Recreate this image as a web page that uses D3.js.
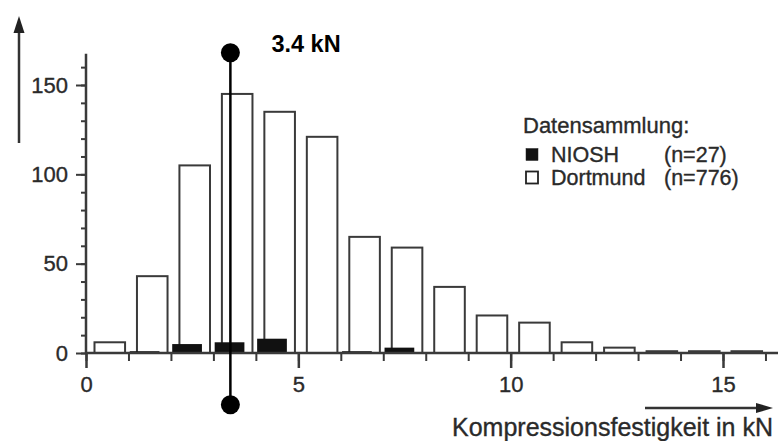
<!DOCTYPE html>
<html>
<head>
<meta charset="utf-8">
<script src="https://cdn.jsdelivr.net/npm/d3@7"></script>
<style>
  body { margin: 0; background: #fff; }
  svg { display: block; font-family: "Liberation Sans", Arial, sans-serif; }
  svg text { stroke: #2a2a2a; stroke-width: 0.35px; }
  .axis text { fill: #2a2a2a; font-size: 22px; }
  .axis line, .axis path { stroke: #3a3a3a; }
</style>
</head>
<body>
<div id="chart"></div>
<script>
// bins of 1 kN, lower bound of each bin
const bins = [0, 1, 2, 3, 4, 5, 6, 7, 8, 9, 10, 11, 12, 13, 14, 15];
const dortmund = [6, 43, 105, 145, 135, 121, 65, 59, 37, 21, 17, 6, 3, 1, 1, 1];
const niosh = [0, 1, 5, 6, 8, 0, 1, 3, 0, 0, 0, 0, 0, 0, 0, 0];
const seriesNames = ["NIOSH", "Dortmund"];
const seriesCounts = ["(n=27)", "(n=776)"];
const legendTitle = "Datensammlung:";
const xTicks = [0, 5, 10, 15];
const yTicks = [0, 50, 100, 150];
const xTitle = "Kompressionsfestigkeit in kN";
const markerValue = 3.4;
const markerLabel = "3.4 kN";

const width = 778, height = 441;

const x = d3.scaleLinear().domain([0, 15]).range([86, 723]);
const y = d3.scaleLinear().domain([0, 150]).range([353, 85]);

const svg = d3.select("#chart").append("svg")
  .attr("width", width).attr("height", height);

// white bars (Dortmund), slightly right in each bin
svg.append("g").selectAll("rect").data(bins).enter()
  .append("rect")
    .attr("x", d => x(d + 0.2))
    .attr("y", (d, i) => y(dortmund[i]))
    .attr("width", x(0.72) - x(0))
    .attr("height", (d, i) => y(0) - y(dortmund[i]))
    .attr("fill", "#fff")
    .attr("stroke", "#3a3a3a")
    .attr("stroke-width", 2);

// black bars (NIOSH), drawn over, shifted left
svg.append("g").selectAll("rect").data(bins.filter((d, i) => niosh[i] > 0)).enter()
  .append("rect")
    .attr("x", d => x(d + 0.03))
    .attr("y", d => y(niosh[d]))
    .attr("width", x(0.7) - x(0))
    .attr("height", d => y(0) - y(niosh[d]))
    .attr("fill", "#111");

// y axis: minor and major ticks
const gy = svg.append("g").attr("class", "axis")
  .attr("transform", `translate(${x(0)},0)`);
gy.append("g")
  .call(d3.axisLeft(y).tickValues(d3.range(0, 170, 10)).tickSize(5).tickFormat(""))
  .call(g => g.select(".domain").remove())
  .selectAll("line").attr("stroke-width", 2);
gy.append("g")
  .call(d3.axisLeft(y).tickValues(yTicks).tickSize(10).tickPadding(8))
  .call(g => g.select(".domain").remove())
  .selectAll("line").attr("stroke-width", 2);
gy.append("line")
  .attr("y1", y(0)).attr("y2", y(167.5))
  .attr("stroke", "#3a3a3a").attr("stroke-width", 2.5);

// x axis
const gx = svg.append("g").attr("class", "axis")
  .attr("transform", `translate(0,${y(0)})`);
gx.append("g")
  .call(d3.axisBottom(x).tickValues(d3.range(0, 17)).tickSize(8).tickFormat(""))
  .call(g => g.select(".domain").remove())
  .selectAll("line").attr("stroke-width", 2);
gx.append("g")
  .call(d3.axisBottom(x).tickValues(xTicks).tickSize(15).tickPadding(8))
  .call(g => g.select(".domain").remove())
  .selectAll("line").attr("stroke-width", 2.5);
gx.append("line")
  .attr("x1", x(0)).attr("x2", width)
  .attr("stroke", "#3a3a3a").attr("stroke-width", 2.5);

// axis arrows
svg.append("line")
  .attr("x1", 19).attr("x2", 19).attr("y1", 143).attr("y2", 30)
  .attr("stroke", "#333").attr("stroke-width", 2.5);
svg.append("path")
  .attr("d", "M19,16 L13.5,33 L24.5,33 Z")
  .attr("fill", "#222");

svg.append("line")
  .attr("x1", 645).attr("x2", 760).attr("y1", 408).attr("y2", 408)
  .attr("stroke", "#333").attr("stroke-width", 2.5);
svg.append("path")
  .attr("d", "M773,408 L756,403 L756,413 Z")
  .attr("fill", "#222");

svg.append("text")
  .attr("x", 773).attr("y", 436)
  .attr("text-anchor", "end")
  .attr("font-size", 25)
  .attr("fill", "#2a2a2a")
  .text(xTitle);

// 3.4 kN marker
const mx = x(markerValue);
svg.append("line")
  .attr("x1", mx).attr("x2", mx)
  .attr("y1", y(168)).attr("y2", y(-29))
  .attr("stroke", "#000").attr("stroke-width", 2.5);
svg.selectAll("circle.marker").data([168, -29]).enter()
  .append("circle")
    .attr("class", "marker")
    .attr("cx", mx).attr("cy", d => y(d))
    .attr("r", 9.5)
    .attr("fill", "#000");
svg.append("text")
  .attr("x", mx + 41).attr("y", 52)
  .attr("font-size", 23.5)
  .attr("font-weight", "bold")
  .attr("fill", "#000")
  .style("stroke", "none")
  .text(markerLabel);

// legend
const legend = svg.append("g").attr("transform", "translate(523,133)");
legend.append("text")
  .attr("font-size", 22).attr("fill", "#2a2a2a")
  .text(legendTitle);
const rows = legend.selectAll("g.row").data(seriesNames).enter()
  .append("g")
    .attr("class", "row")
    .attr("transform", (d, i) => `translate(0,${28.5 + i * 23})`);
rows.append("rect")
  .attr("x", 3).attr("y", -13)
  .attr("width", 12).attr("height", 12)
  .attr("fill", (d, i) => i === 0 ? "#111" : "#fff")
  .attr("stroke", "#222")
  .attr("stroke-width", (d, i) => i === 0 ? 0.5 : 1.8);
rows.append("text")
  .attr("x", 28)
  .attr("font-size", 21.5).attr("fill", "#2a2a2a")
  .text(d => d);
rows.append("text")
  .attr("x", 141)
  .attr("font-size", 21.5).attr("fill", "#2a2a2a")
  .text((d, i) => seriesCounts[i]);
</script>
</body>
</html>
